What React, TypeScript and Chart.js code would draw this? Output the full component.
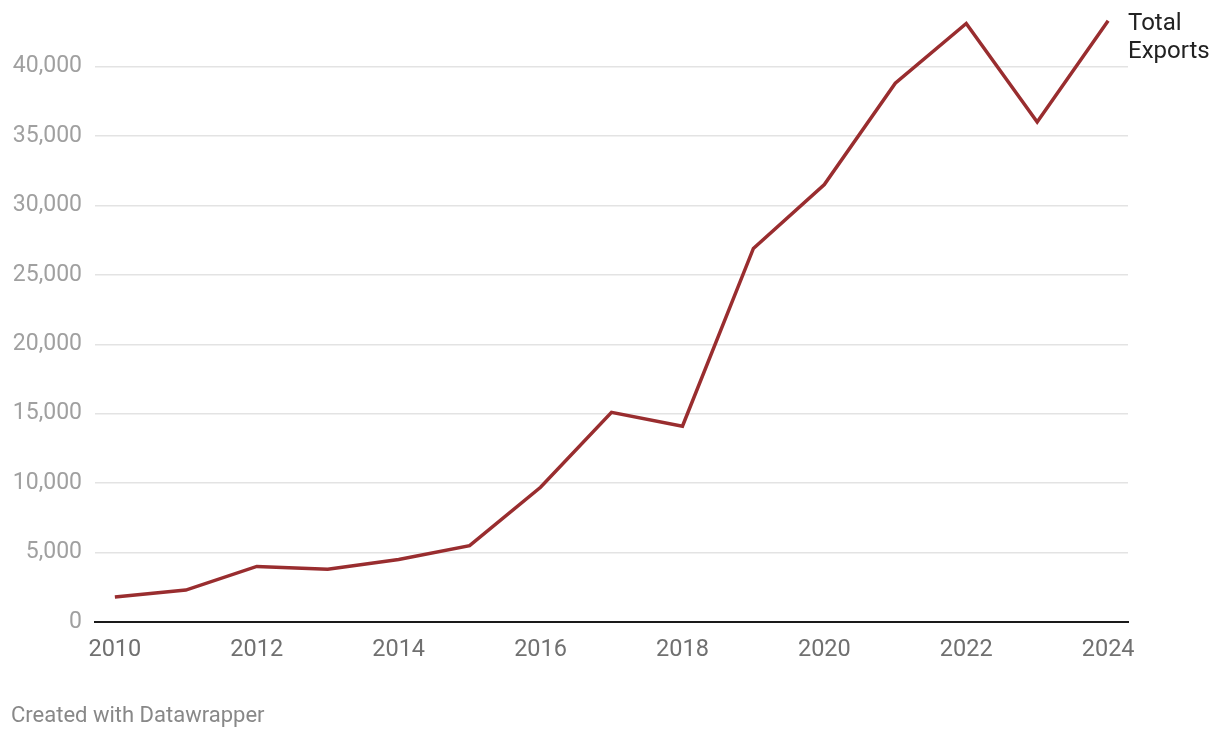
import React, { useEffect, useRef } from "react";
import { Chart, registerables } from "chart.js";

Chart.register(...registerables);

const years = [2010, 2011, 2012, 2013, 2014, 2015, 2016, 2017, 2018, 2019, 2020, 2021, 2022, 2023, 2024];
const totalExports = [1800, 2300, 4000, 3800, 4500, 5500, 9700, 15100, 14100, 26900, 31500, 38800, 43100, 36000, 43300];
const yTicks = [0, 5000, 10000, 15000, 20000, 25000, 30000, 35000, 40000];
const xTicks = [2010, 2012, 2014, 2016, 2018, 2020, 2022, 2024];
const seriesLabel = ["Total", "Exports"];
const credit = "Created with Datawrapper";

const FONT = "Roboto, 'Noto Sans', sans-serif";

export default function App() {
  const ref = useRef<HTMLCanvasElement | null>(null);

  useEffect(() => {
    if (!ref.current) return;
    const endLabel = {
      id: "endLabel",
      afterDatasetsDraw(chart: any) {
        const meta = chart.getDatasetMeta(0);
        const last = meta.data[meta.data.length - 1];
        if (!last) return;
        const ctx = chart.ctx;
        ctx.save();
        ctx.font = `24px ${FONT}`;
        ctx.fillStyle = "#222";
        ctx.textAlign = "left";
        ctx.textBaseline = "middle";
        const x = chart.chartArea.right;
        seriesLabel.forEach((t, i) => ctx.fillText(t, x, last.y + 3 + i * 28));
        ctx.restore();
      },
    };
    const chart = new Chart(ref.current, {
      type: "line",
      data: {
        datasets: [
          {
            data: years.map((y, i) => ({ x: y, y: totalExports[i] })),
            borderColor: "#992d2f",
            borderWidth: 3.5,
            pointRadius: 0,
            tension: 0,
            fill: false,
          },
        ],
      },
      options: {
        animation: false,
        responsive: true,
        maintainAspectRatio: false,
        layout: { padding: { top: 11, right: 92, bottom: 66, left: 0 } },
        plugins: { legend: { display: false }, tooltip: { enabled: false } },
        scales: {
          x: {
            type: "linear",
            min: 2009.72,
            max: 2024.28,
            afterBuildTicks: (s: any) => {
              s.ticks = xTicks.map((v) => ({ value: v }));
            },
            afterFit: (s: any) => {
              s.height = 50;
              s.paddingLeft = 0;
              s.paddingRight = 0;
            },
            grid: { display: false, drawTicks: false },
            border: { display: true, color: "#1a1a1a", width: 2 },
            ticks: {
              color: "#707070",
              font: { family: FONT, size: 23.5 },
              padding: 14,
              maxRotation: 0,
              callback: (v: any) => String(v),
            },
          },
          y: {
            min: 0,
            max: 44000,
            afterBuildTicks: (s: any) => {
              s.ticks = yTicks.map((v) => ({ value: v }));
            },
            afterFit: (s: any) => {
              s.width = 95;
              s.paddingTop = 0;
              s.paddingBottom = 0;
            },
            grid: { color: (c: any) => (c.tick && c.tick.value === 0 ? "rgba(0,0,0,0)" : "#e3e3e3"), lineWidth: 1.5, drawTicks: false },
            border: { display: false },
            ticks: {
              color: "#a0a0a0",
              font: { family: FONT, size: 23 },
              padding: 13,
              callback: (v: any) => Number(v).toLocaleString("en-US"),
            },
          },
        },
      },
      plugins: [endLabel],
    });
    return () => chart.destroy();
  }, []);

  return (
    <div style={{ position: "fixed", left: 0, top: 0, width: 1220, height: 738, background: "#fff" }}>
      <canvas ref={ref} />
      <div
        style={{
          position: "absolute",
          left: 11,
          top: 701,
          fontFamily: FONT,
          fontSize: 22,
          color: "#888",
          lineHeight: "28px",
        }}
      >
        {credit}
      </div>
    </div>
  );
}
